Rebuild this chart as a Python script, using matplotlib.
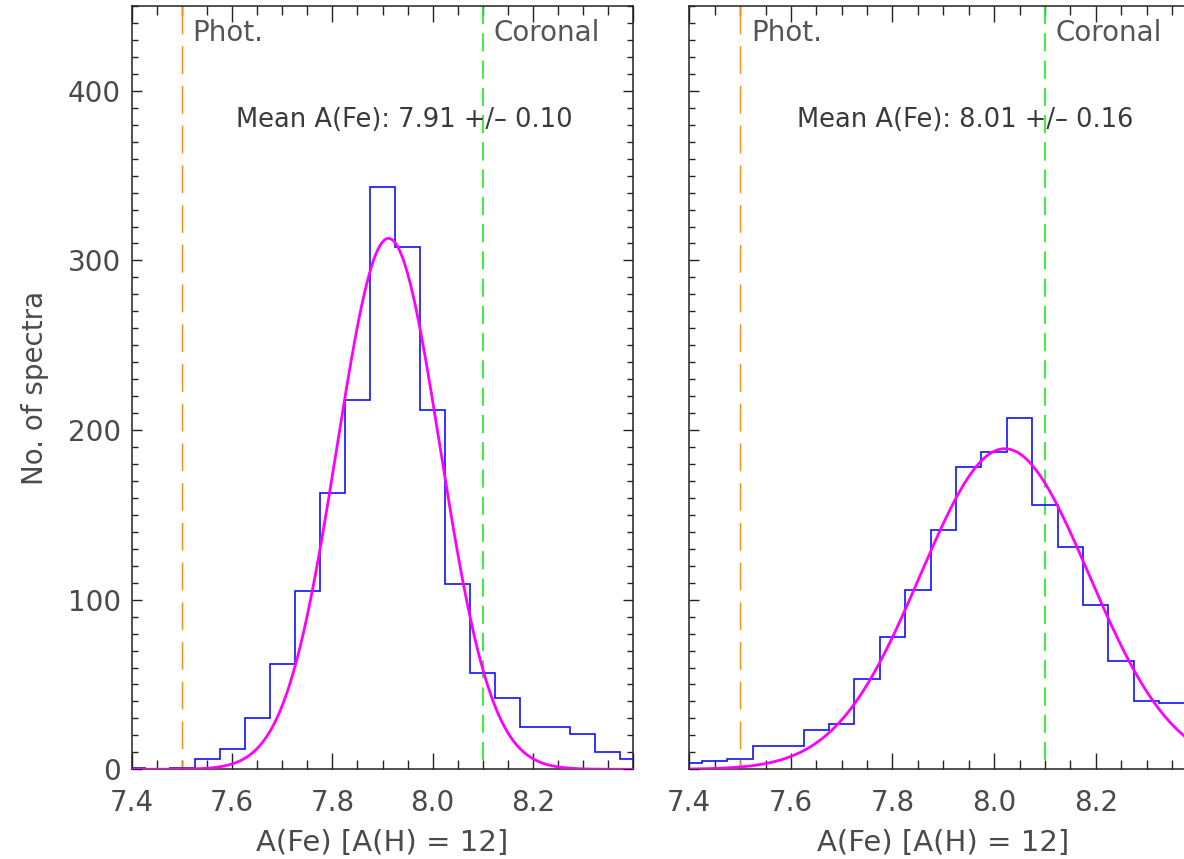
import numpy as np
import matplotlib
matplotlib.use("Agg")
import matplotlib.pyplot as plt
from matplotlib.ticker import MultipleLocator, FixedLocator

plt.rcParams['font.family'] = ['DejaVu Sans']

# ---------------- data ----------------
bin_centers = [7.40, 7.45, 7.50, 7.55, 7.60, 7.65, 7.70, 7.75, 7.80, 7.85, 7.90,
               7.95, 8.00, 8.05, 8.10, 8.15, 8.20, 8.25, 8.30, 8.35, 8.40]
bin_width = 0.05

counts_left = [1, 0, 1, 6, 12, 30, 62, 105, 163, 218, 343,
               308, 212, 109, 57, 42, 25, 25, 21, 10, 6]
counts_right = [4, 5, 6, 14, 14, 23, 27, 53, 78, 106, 141,
                178, 187, 207, 156, 131, 97, 64, 40, 39, 40]

# Gaussian fit parameters (amplitude, mean, sigma)
fit_left = (313.0, 7.912, 0.103)
fit_right = (189.0, 8.021, 0.166)

mean_labels = ["Mean A(Fe): 7.91 +/\u2013 0.10", "Mean A(Fe): 8.01 +/\u2013 0.16"]

phot_value = 7.50
coronal_value = 8.10

xlim = (7.4, 8.4)
ylim = (0, 450)
xtick_labels = ["7.4", "7.6", "7.8", "8.0", "8.2"]
xtick_values = [7.4, 7.6, 7.8, 8.0, 8.2]
ytick_values = [0, 100, 200, 300, 400]

# ---------------- figure ----------------
W, H = 1184, 859
dpi = 100
fig = plt.figure(figsize=(W / dpi, H / dpi), dpi=dpi)

text_col = '#4a4a4a'
spine_col = '#222222'


def make_axes(left_px, width_px):
    bottom_px = 769.3
    top_px = 6.0
    return fig.add_axes([left_px / W, (H - bottom_px) / H,
                         width_px / W, (bottom_px - top_px) / H])


axL = make_axes(132.0, 501.0)
axR = make_axes(689.3, 508.0)

for i, (ax, counts, fit, mlabel) in enumerate(
        [(axL, counts_left, fit_left, mean_labels[0]),
         (axR, counts_right, fit_right, mean_labels[1])]):
    ax.set_xlim(*xlim)
    ax.set_ylim(*ylim)

    # reference lines
    ax.plot([phot_value, phot_value], [ylim[1], ylim[0]], color='#ff8c14',
            lw=1.0, linestyle=(0, (20.0, 8.6)), zorder=2)
    ax.plot([coronal_value, coronal_value], [ylim[1], ylim[0]], color='#22ee22',
            lw=1.25, linestyle=(0, (10.5, 5.2)), zorder=2)

    # histogram
    centers = np.array(bin_centers)
    edges = np.concatenate([centers - bin_width / 2, [centers[-1] + bin_width / 2]])
    ax.stairs(counts, edges, baseline=None, color='#1010ff', lw=1.2, zorder=3)

    # gaussian fit
    amp, mu, sig = fit
    xx = np.linspace(xlim[0], xlim[1], 600)
    ax.plot(xx, amp * np.exp(-0.5 * ((xx - mu) / sig) ** 2),
            color='#ff00ff', lw=2.0, zorder=4, solid_capstyle='butt')

    # annotations
    ax.text(7.521, 434, "Phot.", fontsize=20, color='#555555', va='center', ha='left')
    ax.text(8.121, 434, "Coronal", fontsize=20, color='#555555', va='center', ha='left')
    ax.text(7.943, 383, mlabel, fontsize=18.5, color='#3a3a3a', va='center', ha='center')

    # ticks
    ax.xaxis.set_major_locator(FixedLocator(xtick_values + [8.4]))
    ax.xaxis.set_minor_locator(MultipleLocator(0.05))
    ax.yaxis.set_major_locator(FixedLocator(ytick_values))
    ax.yaxis.set_minor_locator(MultipleLocator(10))
    ax.tick_params(axis='x', which='major', direction='in', length=11.5, width=1.0,
                   top=True, bottom=True, colors=spine_col, labelcolor=text_col,
                   labelsize=20, pad=14.5)
    ax.tick_params(axis='x', which='minor', direction='in', length=6.5, width=1.0,
                   top=True, bottom=True, colors=spine_col)
    ax.tick_params(axis='y', which='major', direction='in', length=7.2, width=1.0,
                   left=True, right=True, colors=spine_col, labelcolor=text_col,
                   labelsize=20, pad=8)
    ax.tick_params(axis='y', which='minor', direction='in', length=4.3, width=1.0,
                   left=True, right=True, colors=spine_col)
    ax.set_xticklabels(xtick_labels + [""])
    for sp in ax.spines.values():
        sp.set_color(spine_col)
        sp.set_linewidth(1.1)

    ax.set_xlabel("A(Fe) [A(H) = 12]", fontsize=21, color=text_col, labelpad=8)

axL.set_yticklabels([str(v) for v in ytick_values])
axR.set_yticklabels([])

fig.text(35 / W, 1 - 388 / H, "No. of spectra", fontsize=20, color=text_col,
         rotation=90, ha='center', va='center')

fig.savefig("out.png", dpi=dpi)
